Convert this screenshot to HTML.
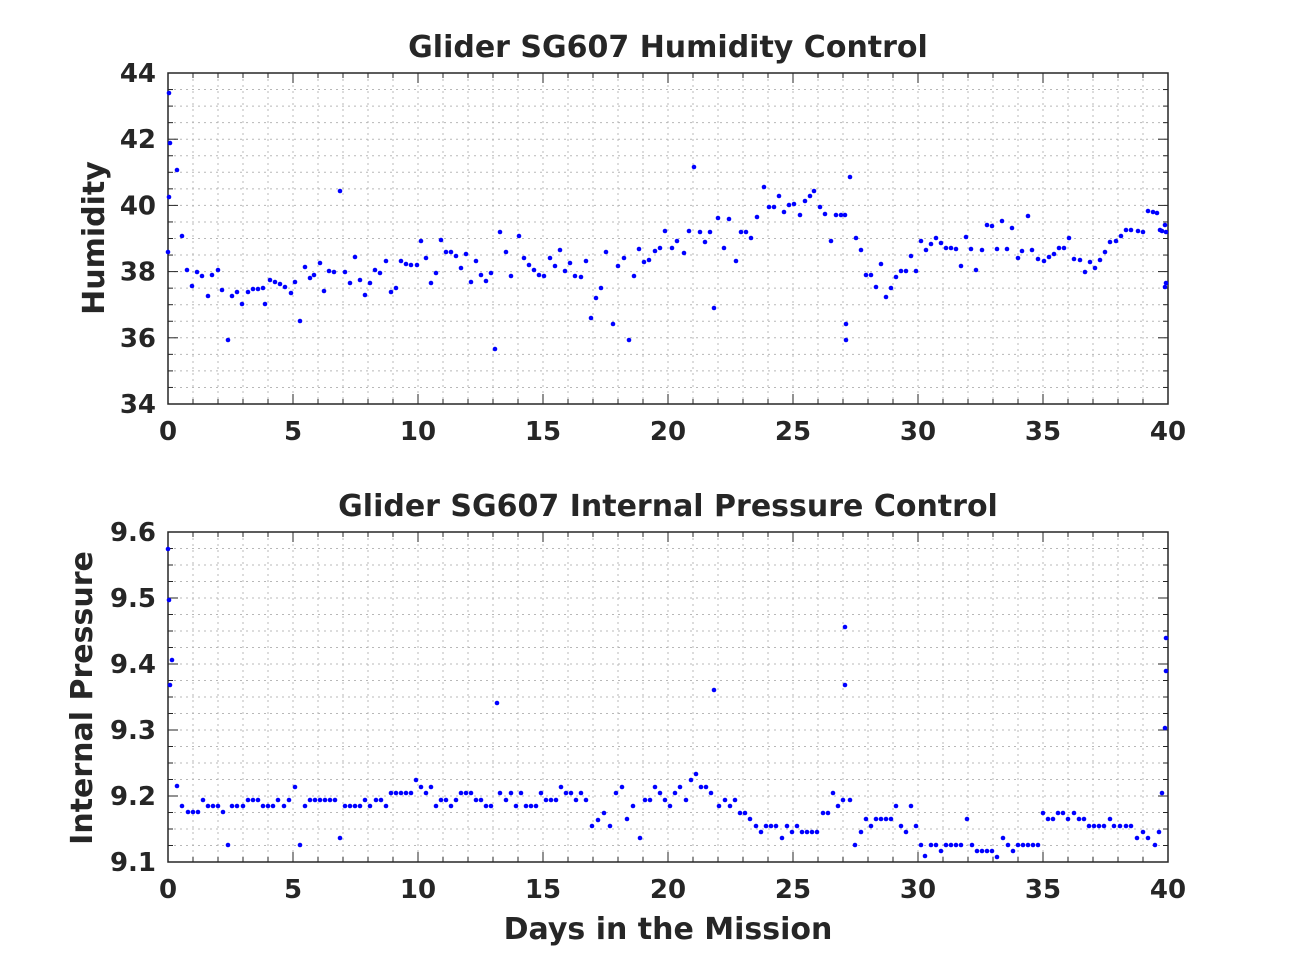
<!DOCTYPE html><html><head><style>body{margin:0;background:#fff}svg{display:block}text{font-family:"DejaVu Sans","Liberation Sans",sans-serif;font-weight:bold;fill:#262626}</style></head><body>
<svg id="s" width="1291" height="968" xmlns="http://www.w3.org/2000/svg">
<text x="668" y="57" font-size="30" text-anchor="middle">Glider SG607 Humidity Control</text>
<text x="668" y="516" font-size="30" text-anchor="middle">Glider SG607 Internal Pressure Control</text>
<text x="668" y="939" font-size="30" text-anchor="middle">Days in the Mission</text>
<text transform="translate(104,238) rotate(-90)" font-size="30" text-anchor="middle">Humidity</text>
<text transform="translate(92,698) rotate(-90)" font-size="30" text-anchor="middle">Internal Pressure</text>
<g id="g"></g>
</svg>
<script>
var g=document.getElementById('g'),h='';
function L(x1,y1,x2,y2,st){h+='<line x1="'+x1+'" y1="'+y1+'" x2="'+x2+'" y2="'+y2+'" '+st+'/>';}
function T(x,y,t,a){h+='<text x="'+x+'" y="'+y+'" font-size="26" text-anchor="'+a+'">'+t+'</text>';}
function axes(top,bot,ylabs,nminor){
 var gs='stroke="#b8b8b8" stroke-width="1" stroke-dasharray="2,4"';
 for(var d=1;d<40;d++){var x=168+d*25;L(x,top,x,bot,gs);var l=d%5==0?10:5;L(x,top,x,top+l,'stroke="#262626"');L(x,bot,x,bot-l,'stroke="#262626"');}
 var n=nminor,step=(bot-top)/n;
 for(var i=1;i<n;i++){var y=top+i*step;L(168,y,1168,y,gs);var l=i%4==0?10:5;L(168,y,168+l,y,'stroke="#262626"');L(1168,y,1168-l,y,'stroke="#262626"');}
 h+='<rect x="168" y="'+top+'" width="1000" height="'+(bot-top)+'" fill="none" stroke="#262626" stroke-width="1.5"/>';
 for(var d=0;d<=40;d+=5)T(168+d*25,bot+36,d,'middle');
 for(var i=0;i<ylabs.length;i++)T(156,bot-i*(bot-top)/(ylabs.length-1)+9,ylabs[i],'end');
}
axes(73,404,['34','36','38','40','42','44'],20);
axes(532,862,['9.1','9.2','9.3','9.4','9.5','9.6'],20);
var A=[169,93,170,143,169,197,177,170,182,236,168,252,187,270,192,286,197,272,202,276,208,296,212,275,218,270,222,290,228,340,232,296,237,292,242,304,248,292,253,289,258,289,263,288,265,304,270,280,275,282,280,284,285,287,291,293,295,282,300,321,305,267,310,278,314,275,320,263,324,291,329,271,334,272,340,191,345,272,350,283,355,257,360,280,365,295,370,283,375,270,380,273,386,261,391,292,396,288,401,261,406,264,411,265,417,265,421,241,426,258,431,283,436,273,441,240,446,252,451,252,456,256,461,268,466,254,471,282,476,261,481,275,486,281,491,273,495,349,500,232,506,252,511,276,519,236,524,258,529,265,534,270,539,275,544,276,550,258,555,266,560,250,565,271,570,263,575,276,581,277,586,261,591,318,596,298,601,288,606,252,613,324,618,266,624,258,629,340,634,276,639,249,644,262,649,260,655,251,660,248,665,231,672,248,677,241,684,253,689,231,694,167,700,232,705,242,710,232,714,308,718,218,724,248,729,219,736,261,741,232,746,232,751,238,757,217,764,187,769,207,774,207,779,196,784,212,789,205,794,204,800,215,805,201,810,196,814,191,820,207,825,214,831,241,836,215,841,215,845,215,846,324,846,340,850,177,856,238,861,250,866,275,871,275,876,287,881,264,886,297,891,288,896,277,901,271,906,271,911,256,916,271,921,241,926,250,931,244,936,238,941,243,946,248,951,248,956,249,961,266,966,237,971,249,976,270,982,250,987,225,992,226,997,249,1002,221,1007,249,1012,228,1018,258,1022,251,1028,216,1032,250,1038,259,1044,261,1049,257,1054,254,1059,248,1064,248,1069,238,1074,259,1080,260,1085,272,1090,262,1095,268,1100,260,1105,252,1110,242,1116,241,1121,236,1126,230,1131,230,1138,231,1143,232,1148,211,1153,212,1157,213,1160,230,1162,231,1165,225,1166,232,1166,283,1165,287];
var B=[168,549,169,600,172,660,170,685,177,786,182,806,188,812,193,812,198,812,203,800,208,806,213,806,218,806,223,812,228,845,232,806,237,806,243,806,248,800,253,800,258,800,263,806,268,806,273,806,278,800,284,806,289,800,295,787,300,845,305,806,310,800,315,800,320,800,325,800,330,800,335,800,340,838,345,806,350,806,355,806,360,806,365,800,370,806,376,800,381,800,386,806,391,793,396,793,401,793,406,793,411,793,416,780,421,787,426,793,431,787,436,806,441,800,446,800,451,806,456,800,461,793,466,793,471,793,476,800,481,800,486,806,491,806,497,703,500,793,506,800,511,793,516,806,521,793,526,806,531,806,536,806,541,793,546,800,551,800,556,800,561,787,566,793,571,793,576,800,581,793,586,800,592,826,598,820,604,813,610,826,616,793,622,787,627,819,633,806,640,838,645,800,650,800,655,787,660,793,665,800,670,806,675,793,680,787,686,800,691,780,696,774,701,787,706,787,711,793,714,690,719,806,725,800,730,806,735,800,740,813,745,813,750,819,756,826,761,832,766,826,771,826,776,826,782,838,787,826,792,832,797,826,802,832,807,832,812,832,817,832,823,813,828,813,833,793,838,806,843,800,845,627,845,685,850,800,855,845,861,832,866,819,871,826,876,819,881,819,886,819,891,819,896,806,901,826,906,832,911,806,916,826,921,845,925,856,931,845,936,845,941,851,946,845,951,845,956,845,961,845,967,819,972,845,977,851,982,851,987,851,992,851,997,857,1003,838,1008,845,1013,851,1018,845,1023,845,1028,845,1033,845,1038,845,1043,813,1048,819,1053,819,1058,813,1063,813,1068,819,1074,813,1079,819,1084,819,1089,826,1094,826,1099,826,1104,826,1110,819,1114,826,1120,826,1126,826,1131,826,1137,838,1143,832,1148,838,1155,845,1159,832,1162,793,1165,728,1166,671,1166,638];
[A,B].forEach(function(P){for(var i=0;i<P.length;i+=2)h+='<circle cx="'+P[i]+'" cy="'+P[i+1]+'" r="2.3" fill="#0000ff"/>';});
g.innerHTML=h;
</script></body></html>
